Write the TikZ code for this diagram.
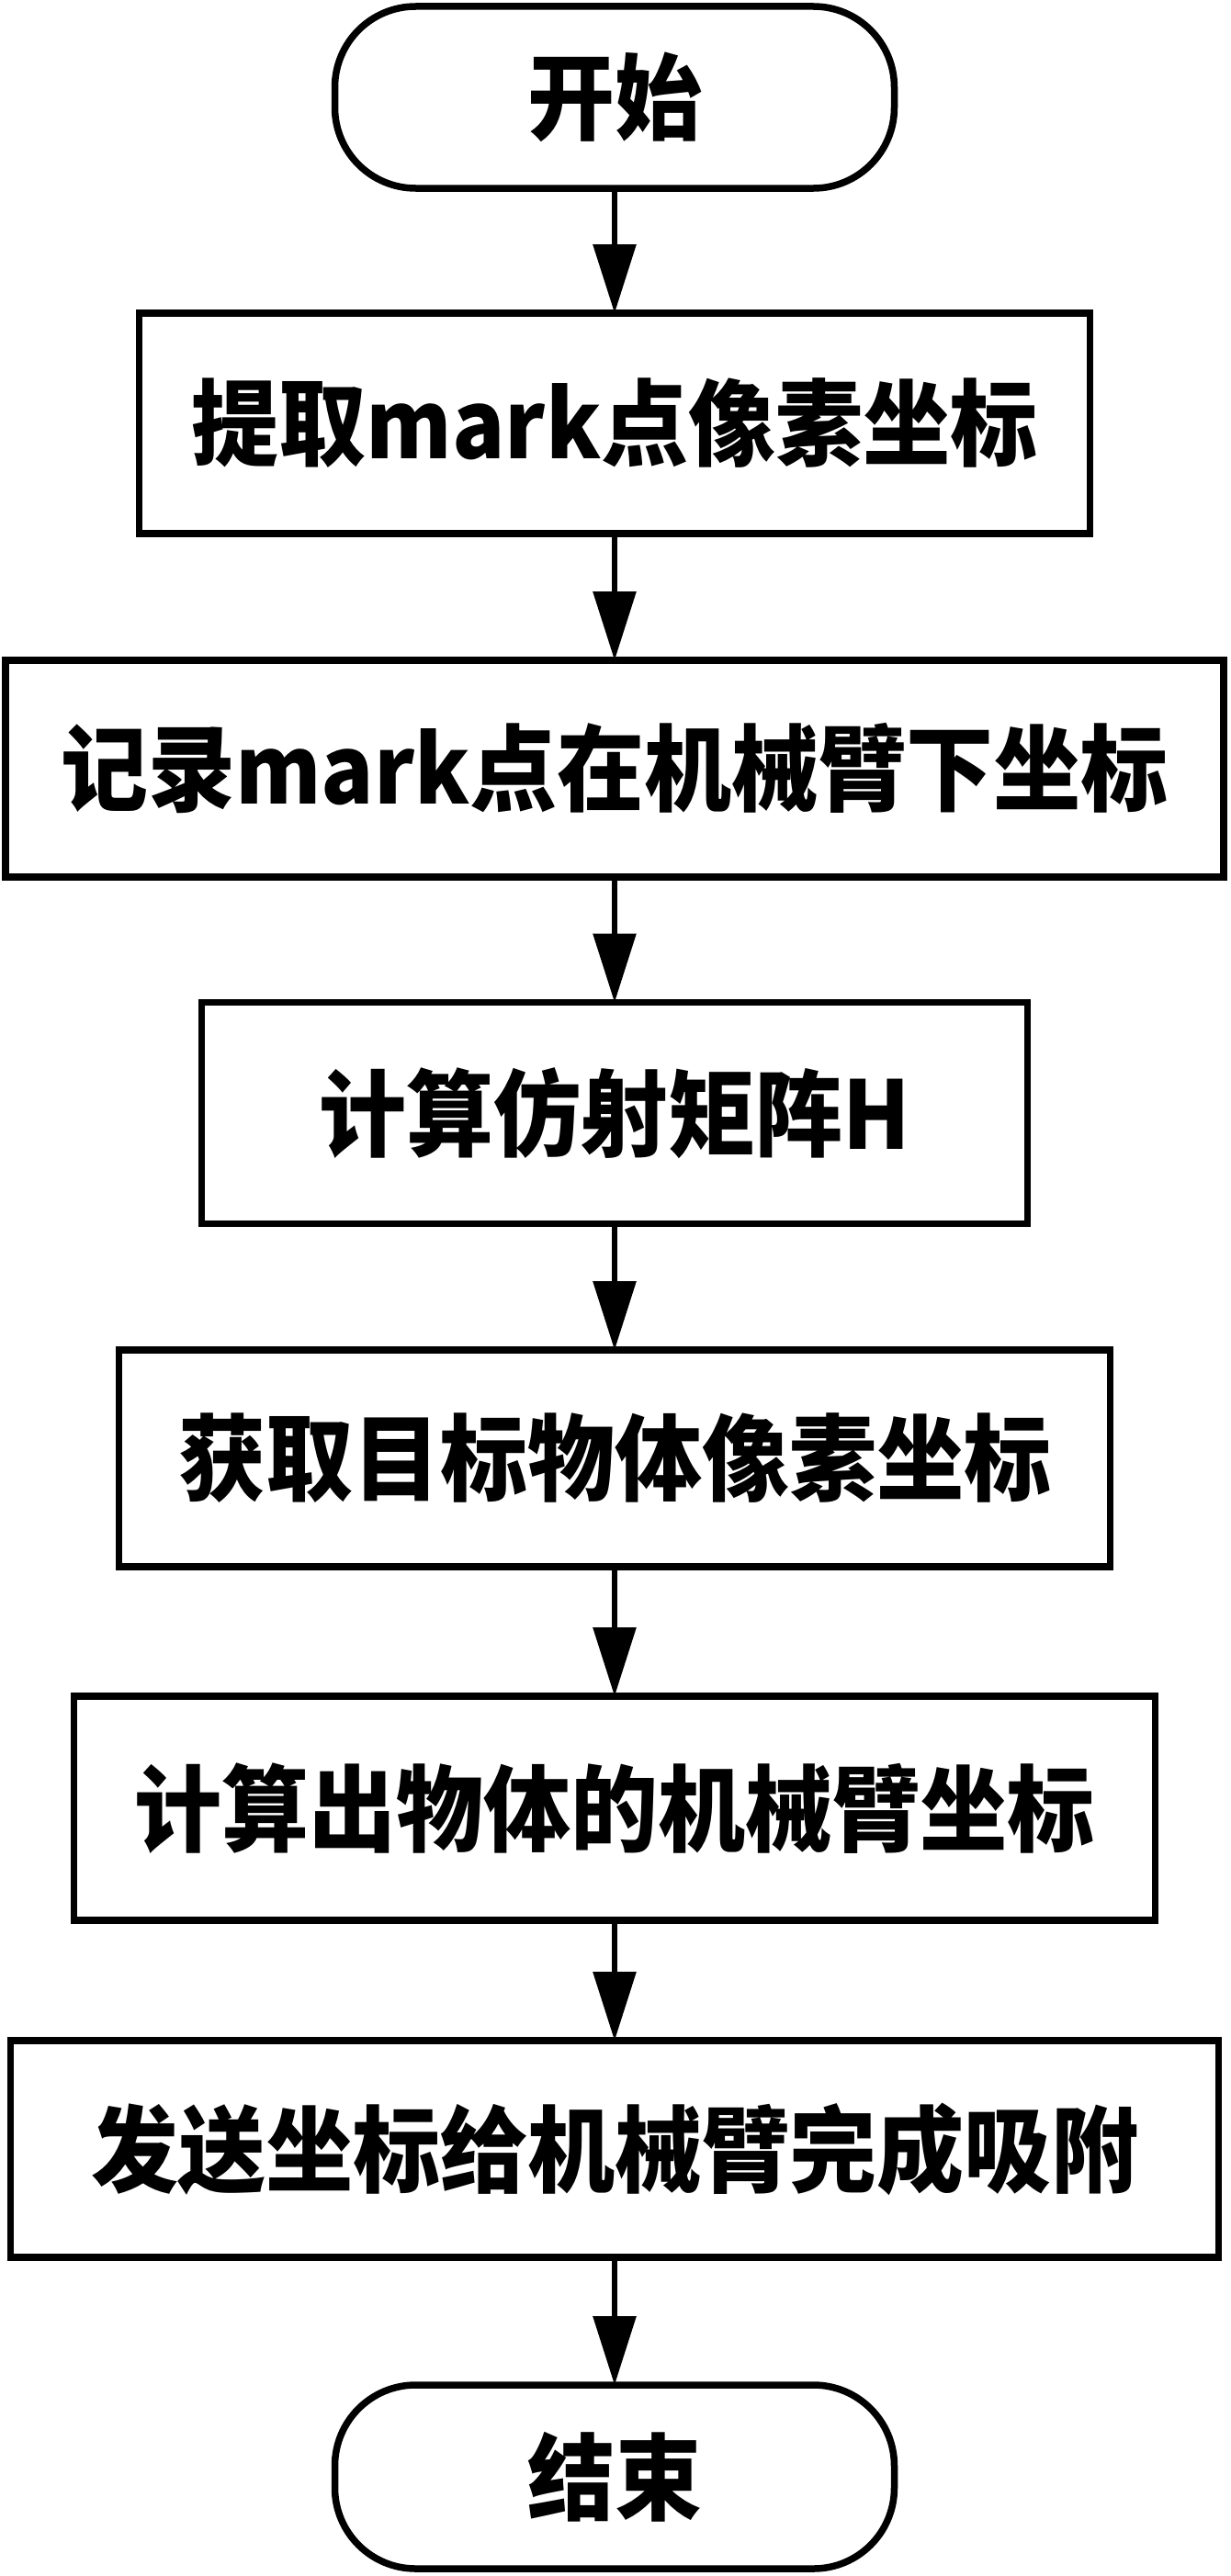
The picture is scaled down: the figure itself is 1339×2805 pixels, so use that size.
\documentclass[tikz,border=0pt]{standalone}
\usepackage{fontspec}
\usepackage{graphicx}
\newfontfamily\cjk{Noto Sans CJK SC}
\usetikzlibrary{arrows.meta}
\tikzset{
  base/.style={draw, line width=7.5pt, inner sep=0pt, outer sep=0pt, fill=white,
    font=\cjk\bfseries\fontsize{95}{100}\selectfont},
  procbox/.style={base, rectangle},
  termbox/.style={base, rectangle, rounded corners=88pt, minimum width=609pt, minimum height=198pt},
  arr/.style={line width=6pt, -{Triangle[length=75pt,width=46pt]}},
}
\newcommand\stretchtxt[1]{\scalebox{1}[1.08]{#1}}
\begin{document}
\begin{tikzpicture}[x=1pt,y=-1pt]
\useasboundingbox[fill=white] (0,0) rectangle (1339,2805);
\node[termbox] (start) at (669,106) {\stretchtxt{开始}};
\node[procbox, minimum width=1035pt, minimum height=240pt] (s1) at (669,461) {\stretchtxt{提取mark点像素坐标}};
\node[procbox, minimum width=1326pt, minimum height=236pt] (s2) at (669,837) {\stretchtxt{记录mark点在机械臂下坐标}};
\node[procbox, minimum width=899pt, minimum height=241pt] (s3) at (669,1212) {\stretchtxt{计算仿射矩阵H}};
\node[procbox, minimum width=1079pt, minimum height=236pt] (s4) at (669,1588) {\stretchtxt{获取目标物体像素坐标}};
\node[procbox, minimum width=1177pt, minimum height=244pt] (s5) at (669,1969) {\stretchtxt{计算出物体的机械臂坐标}};
\node[procbox, minimum width=1315pt, minimum height=236pt] (s6) at (669,2340) {\stretchtxt{发送坐标给机械臂完成吸附}};
\node[termbox, minimum height=200pt] (end) at (669,2697) {\stretchtxt{结束}};
\draw[arr] (start.south) -- (s1.north);
\draw[arr] (s1.south) -- (s2.north);
\draw[arr] (s2.south) -- (s3.north);
\draw[arr] (s3.south) -- (s4.north);
\draw[arr] (s4.south) -- (s5.north);
\draw[arr] (s5.south) -- (s6.north);
\draw[arr] (s6.south) -- (end.north);
\end{tikzpicture}
\end{document}
